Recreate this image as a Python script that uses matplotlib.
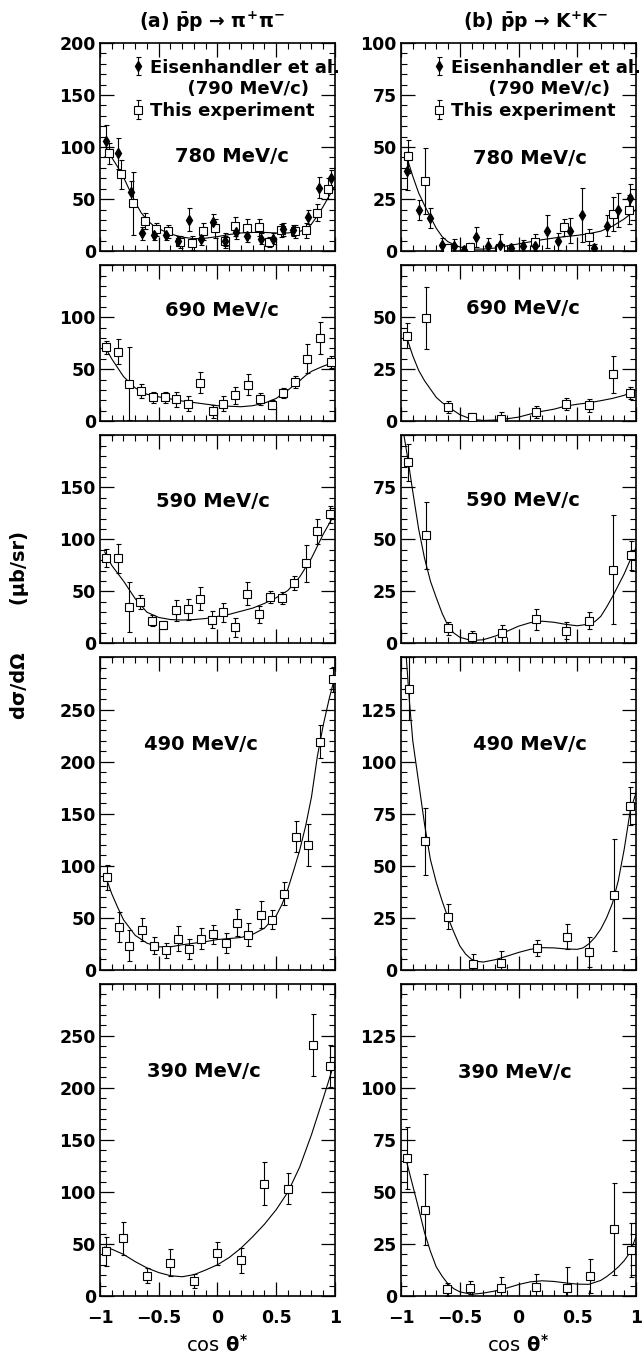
import matplotlib.pyplot as plt
from matplotlib.lines import Line2D
from matplotlib.ticker import MultipleLocator, FixedLocator, FixedFormatter, FuncFormatter

# ---------------- data ----------------
MOMENTA = ['780', '690', '590', '490', '390']

# pbar p -> pi+ pi-  (This experiment)
PIPI_780_COS = [-0.92, -0.82, -0.72, -0.62, -0.52, -0.42, -0.32, -0.22, -0.12, -0.02,
                0.06, 0.15, 0.25, 0.35, 0.44, 0.54, 0.66, 0.75, 0.85, 0.94]
PIPI_780_VAL = [94, 74, 46, 29, 21, 19, 9, 8, 19, 22, 10, 24, 22, 23, 9, 20, 19, 20, 37, 60]
PIPI_780_ERR = [10, 14, 30, 8, 6, 6, 6, 7, 8, 9, 7, 9, 9, 8, 5, 6, 6, 7, 8, 10]

# Eisenhandler et al. (790 MeV/c)
EISEN_PIPI_COS = [-0.95, -0.85, -0.74, -0.64, -0.54, -0.44, -0.34, -0.24, -0.14, -0.04,
                  0.06, 0.16, 0.25, 0.37, 0.47, 0.56, 0.64, 0.77, 0.86, 0.97]
EISEN_PIPI_VAL = [106, 94, 57, 17, 16, 16, 10, 30, 12, 28, 10, 18, 15, 12, 12, 21, 20, 33, 61, 70]
EISEN_PIPI_ERR = [15, 15, 10, 6, 5, 5, 5, 11, 6, 8, 5, 6, 6, 5, 5, 6, 5, 7, 10, 8]

PIPI_690_COS = [-0.95, -0.85, -0.75, -0.65, -0.55, -0.45, -0.35, -0.25, -0.15, -0.04,
                0.05, 0.15, 0.26, 0.36, 0.46, 0.56, 0.66, 0.76, 0.87, 0.97]
PIPI_690_VAL = [71, 67, 36, 29, 23, 23, 21, 17, 37, 9.5, 17, 25, 35, 21.5, 16, 27, 38, 60, 80, 57]
PIPI_690_ERR = [6, 12, 35, 7, 5, 5, 7, 7, 10, 6, 7, 8, 10, 6, 4, 5, 6, 14, 15, 6]

PIPI_590_COS = [-0.95, -0.85, -0.75, -0.66, -0.56, -0.46, -0.35, -0.25, -0.15, -0.05,
                0.05, 0.15, 0.25, 0.35, 0.45, 0.55, 0.65, 0.75, 0.85, 0.96]
PIPI_590_VAL = [82, 82, 35, 40, 22, 18, 32, 33, 43, 23, 30, 15.5, 48, 28, 44.5, 43.5, 58, 77, 108, 124]
PIPI_590_ERR = [9, 14, 24, 7, 5, 4, 10, 10, 11, 8, 9, 9, 11, 8, 6, 6, 7, 18, 12, 8]

PIPI_490_COS = [-0.94, -0.84, -0.75, -0.64, -0.54, -0.44, -0.34, -0.24, -0.14, -0.04,
                0.07, 0.17, 0.26, 0.37, 0.46, 0.57, 0.67, 0.77, 0.87, 0.98]
PIPI_490_VAL = [89, 41, 23, 38.5, 23, 18.6, 30, 20, 30, 34, 25.7, 45, 33.7, 53, 48, 73, 128, 120, 219, 279]
PIPI_490_ERR = [12, 14, 15, 11, 8, 7, 12, 10, 10, 9, 10, 13, 11, 13, 9, 11, 15, 20, 16, 12]

PIPI_390_COS = [-0.95, -0.8, -0.6, -0.4, -0.2, 0.0, 0.2, 0.4, 0.6, 0.81, 0.96]
PIPI_390_VAL = [43, 55.5, 19.5, 32, 14.5, 41, 34.5, 108, 103, 241, 221]
PIPI_390_ERR = [14, 16, 7, 13, 7, 11, 12, 21, 15, 30, 20]

# fitted curves, pi+ pi-
PIPI_780_FIT_COS = [-0.95, -0.9, -0.85, -0.8, -0.75, -0.7, -0.65, -0.6, -0.55, -0.5, -0.4, -0.3,
                    -0.2, -0.1, 0.0, 0.1, 0.2, 0.3, 0.4, 0.5, 0.6, 0.7, 0.75, 0.8, 0.85, 0.9, 0.95, 1.0]
PIPI_780_FIT_VAL = [100, 90, 81, 71, 59, 47, 37, 30, 25, 21.5, 16.5, 13.5,
                    12, 12.5, 14, 16, 17.5, 18, 18, 17.5, 17.5, 19, 21, 26, 34, 43, 53, 62]
PIPI_690_FIT_COS = [-0.96, -0.9, -0.8, -0.7, -0.6, -0.5, -0.4, -0.3, -0.2, -0.1, 0.0,
                    0.1, 0.2, 0.3, 0.4, 0.5, 0.6, 0.7, 0.75, 0.8, 0.9, 1.0]
PIPI_690_FIT_VAL = [72, 60, 43, 32, 26, 23.5, 21.5, 19.5, 18, 16.5, 15,
                    14.5, 14, 15, 17.5, 22, 30, 39, 44, 48, 53, 57]
PIPI_590_FIT_COS = [-0.96, -0.9, -0.8, -0.7, -0.6, -0.5, -0.4, -0.3, -0.2, -0.1, 0.0,
                    0.1, 0.2, 0.3, 0.4, 0.5, 0.6, 0.7, 0.8, 0.9, 1.0]
PIPI_590_FIT_VAL = [88, 75, 60, 43, 30, 25, 23, 22.5, 23, 24, 26,
                    28, 31, 34, 38.5, 44, 51, 64, 82, 105, 125]
PIPI_490_FIT_COS = [-0.96, -0.9, -0.85, -0.8, -0.7, -0.6, -0.5, -0.4, -0.3, -0.2, -0.1, 0.0,
                    0.1, 0.2, 0.3, 0.4, 0.5, 0.55, 0.6, 0.65, 0.7, 0.75, 0.8, 0.85, 0.9, 0.95, 1.0]
PIPI_490_FIT_VAL = [92, 73, 60, 48, 33, 25.5, 22, 22, 24, 25.5, 27, 29,
                    30, 31, 34, 40, 52, 63, 78, 96, 115, 138, 166, 205, 235, 260, 282]
PIPI_390_FIT_COS = [-0.96, -0.9, -0.8, -0.7, -0.6, -0.5, -0.4, -0.3, -0.2, -0.1, 0.0,
                    0.1, 0.2, 0.3, 0.4, 0.5, 0.6, 0.7, 0.8, 0.9, 1.0]
PIPI_390_FIT_VAL = [47, 45, 40, 33, 27, 22.5, 19.5, 18.5, 20.5, 25, 30,
                    37, 46, 57, 69, 83, 100, 124, 155, 190, 226]

# pbar p -> K+ K-  (This experiment)
KK_780_COS = [-0.94, -0.8, -0.61, -0.41, -0.16, 0.14, 0.39, 0.6, 0.8, 0.94]
KK_780_VAL = [45.6, 33.7, 1.6, 2.1, 1.6, 4.3, 11.4, 6.8, 17.9, 20]
KK_780_ERR = [8, 16, 2, 2, 2, 4, 4, 4, 8, 7]

EISEN_KK_COS = [-0.95, -0.85, -0.75, -0.65, -0.55, -0.46, -0.36, -0.26, -0.16, -0.06,
                0.04, 0.14, 0.24, 0.34, 0.44, 0.54, 0.64, 0.75, 0.85, 0.95]
EISEN_KK_VAL = [38.4, 19.8, 15.9, 3.2, 2.7, 0.8, 6.8, 2.4, 3.2, 1.3,
                2.4, 2.7, 9.5, 4.8, 9.8, 17.5, 1.6, 12.2, 19.8, 25.4]
EISEN_KK_ERR = [9, 5, 5, 3, 3, 1.5, 5, 4, 5, 2, 3, 3, 8, 4, 6, 13, 2, 5, 8, 7]

KK_690_COS = [-0.95, -0.79, -0.6, -0.4, -0.15, 0.15, 0.4, 0.6, 0.8, 0.95]
KK_690_VAL = [41, 49.5, 6.9, 2.1, 1.3, 4.4, 8.4, 7.6, 22.6, 13.7]
KK_690_ERR = [6, 15, 3, 2, 3, 3, 3, 3, 9, 3]

KK_590_COS = [-0.94, -0.79, -0.6, -0.4, -0.14, 0.15, 0.4, 0.6, 0.8, 0.96]
KK_590_VAL = [87, 52, 7.3, 2.9, 4.8, 11.6, 6.1, 11, 35.5, 42.3]
KK_590_ERR = [9, 16, 3, 3, 4, 5, 4, 4, 26, 7]

KK_490_COS = [-0.93, -0.8, -0.6, -0.39, -0.15, 0.16, 0.41, 0.6, 0.81, 0.95]
KK_490_VAL = [135, 61.7, 25.5, 2.7, 3.2, 10.4, 15.9, 8.5, 35.9, 78.6]
KK_490_ERR = [15, 16, 6, 5, 6, 4, 6, 7, 27, 9]

KK_390_COS = [-0.95, -0.8, -0.61, -0.41, -0.15, 0.15, 0.41, 0.61, 0.81, 0.96]
KK_390_VAL = [66.4, 41.5, 3.2, 4, 4, 4.5, 3.7, 9.6, 32.3, 22.2]
KK_390_ERR = [15, 17, 3, 3, 5, 6, 10, 8, 22, 13]

# fitted curves, K+ K-
KK_780_FIT_COS = [-0.95, -0.9, -0.85, -0.8, -0.75, -0.7, -0.65, -0.6, -0.5, -0.4, -0.3, -0.2,
                  -0.1, 0.0, 0.1, 0.2, 0.3, 0.4, 0.5, 0.6, 0.7, 0.8, 0.9, 1.0]
KK_780_FIT_VAL = [45, 36, 28, 22, 16.5, 11, 7, 4.5, 2, 1, 1, 1.5,
                  2.5, 3.5, 4.5, 5.5, 6.3, 7, 7.6, 8.4, 9.6, 12, 15.5, 20]
KK_690_FIT_COS = [-0.95, -0.9, -0.85, -0.8, -0.75, -0.7, -0.65, -0.6, -0.5, -0.4, -0.3, -0.2,
                  -0.1, 0.0, 0.1, 0.2, 0.3, 0.4, 0.5, 0.6, 0.7, 0.8, 0.9, 0.96]
KK_690_FIT_VAL = [40, 31.5, 24.5, 19.5, 15.5, 11.5, 9, 7, 3.2, 1, 0.4, 0.6,
                  1.2, 2, 3.5, 4.8, 5.8, 7.3, 8.2, 8.9, 9.9, 11, 12.5, 14]
KK_590_FIT_COS = [-0.975, -0.94, -0.9, -0.85, -0.8, -0.75, -0.7, -0.65, -0.6, -0.55, -0.5,
                  -0.4, -0.3, -0.2, -0.1, 0.0, 0.1, 0.2, 0.3, 0.4, 0.5, 0.6, 0.65, 0.7,
                  0.75, 0.8, 0.85, 0.9, 0.95, 1.0]
KK_590_FIT_VAL = [100, 88, 73, 55, 41, 30, 22, 14.5, 8.5, 5, 3,
                  1.4, 1.8, 3.5, 5.8, 8.3, 10, 10.7, 10.2, 9.2, 8.5, 9.3, 10.5, 13,
                  17.5, 22.5, 28, 33.5, 40, 46]
KK_490_FIT_COS = [-0.955, -0.93, -0.9, -0.85, -0.8, -0.75, -0.7, -0.65, -0.6, -0.55, -0.5,
                  -0.45, -0.4, -0.35, -0.3, -0.2, -0.1, 0.0, 0.1, 0.2, 0.3, 0.4, 0.5,
                  0.55, 0.6, 0.65, 0.7, 0.75, 0.8, 0.85, 0.9, 0.95, 1.0]
KK_490_FIT_VAL = [150, 130, 110, 90, 70, 53, 42, 33, 25, 18, 11.5,
                  7.5, 5, 4, 3.7, 4.8, 6.5, 8.3, 9.8, 10.6, 10.5, 10, 9.8,
                  10.5, 12.5, 15.5, 19.5, 25, 32, 43, 58, 76, 85]
KK_390_FIT_COS = [-0.95, -0.9, -0.85, -0.8, -0.75, -0.7, -0.65, -0.6, -0.55, -0.5, -0.4,
                  -0.3, -0.2, -0.1, 0.0, 0.1, 0.2, 0.3, 0.4, 0.5, 0.6, 0.7, 0.75,
                  0.8, 0.85, 0.9, 0.95, 1.0]
KK_390_FIT_VAL = [64, 53, 42, 30.5, 21.5, 14, 9.5, 5.8, 3.5, 2, 0.8,
                  1.4, 2.4, 3.8, 5.5, 6.8, 7.3, 7, 6.3, 5.7, 5.6, 7.5, 9.3,
                  11.5, 14, 17, 21, 28.5]

PIPI_YMAX = [200, 150, 200, 300, 300]
KK_YMAX = [100, 75, 100, 150, 150]

XTICKS = [-1, -0.5, 0, 0.5, 1]
XTICK_LABELS = ['\u22121', '\u22120.5', '0', '0.5', '1']

# ---------------- style ----------------
plt.rcParams['font.family'] = 'DejaVu Sans'
plt.rcParams['font.weight'] = 'bold'
plt.rcParams['mathtext.fontset'] = 'custom'
plt.rcParams['mathtext.rm'] = 'DejaVu Sans:bold'
plt.rcParams['mathtext.it'] = 'DejaVu Sans:bold'
plt.rcParams['mathtext.bf'] = 'DejaVu Sans:bold'
plt.rcParams['axes.linewidth'] = 1.2

SQ = dict(fmt='s', ms=5.5, mfc='white', mec='black', mew=0.8, ecolor='black',
          elinewidth=0.8, capsize=1.8, capthick=0.8, zorder=3)
DM = dict(fmt='d', ms=5, color='black', ecolor='black',
          elinewidth=0.8, capsize=1.8, capthick=0.8, zorder=3)

# label positions (axes fraction) for the momentum labels
PIPI_LABEL_POS = [(0.56, 0.455), (0.52, 0.71), (0.48, 0.68), (0.43, 0.72), (0.44, 0.72)]
KK_LABEL_POS = [(0.55, 0.445), (0.52, 0.72), (0.52, 0.685), (0.55, 0.72), (0.485, 0.715)]

ARROW = '\u2192'


def style_axis(ax, ymax, major, row, bottom):
  ax.set_xlim(-1, 1)
  ax.set_ylim(0, ymax)
  ax.xaxis.set_major_locator(FixedLocator(XTICKS))
  ax.xaxis.set_minor_locator(MultipleLocator(0.1))
  if bottom:
    ax.xaxis.set_major_formatter(FixedFormatter(XTICK_LABELS))
  else:
    ax.set_xticklabels([])
  ax.yaxis.set_major_locator(MultipleLocator(major))
  ax.yaxis.set_minor_locator(MultipleLocator(major / 5))
  skip_top = row > 0
  ax.yaxis.set_major_formatter(FuncFormatter(
      lambda v, p: '' if (skip_top and v >= ymax - 1e-6) else f'{v:g}'))
  ax.tick_params(which='both', direction='in', top=True, right=True, labelsize=12.5)
  ax.tick_params(which='major', length=10, width=0.9)
  ax.tick_params(which='minor', length=4.5, width=0.8)
  ax.tick_params(axis='x', pad=9)
  ax.tick_params(axis='y', pad=3)


def draw_panel(ax, cos, val, err, fit_cos, fit_val):
  ax.plot(fit_cos, fit_val, color='black', lw=0.8, zorder=2)
  return ax.errorbar(cos, val, yerr=err, **SQ)


def main():
  fig = plt.figure(figsize=(6.42, 13.56), dpi=100)
  gs = fig.add_gridspec(5, 2, height_ratios=PIPI_YMAX,
                        left=100 / 642, right=636 / 642,
                        top=1 - 43 / 1356, bottom=1 - 1296 / 1356,
                        hspace=0.0585, wspace=0.281)

  pipi = [(PIPI_780_COS, PIPI_780_VAL, PIPI_780_ERR, PIPI_780_FIT_COS, PIPI_780_FIT_VAL),
          (PIPI_690_COS, PIPI_690_VAL, PIPI_690_ERR, PIPI_690_FIT_COS, PIPI_690_FIT_VAL),
          (PIPI_590_COS, PIPI_590_VAL, PIPI_590_ERR, PIPI_590_FIT_COS, PIPI_590_FIT_VAL),
          (PIPI_490_COS, PIPI_490_VAL, PIPI_490_ERR, PIPI_490_FIT_COS, PIPI_490_FIT_VAL),
          (PIPI_390_COS, PIPI_390_VAL, PIPI_390_ERR, PIPI_390_FIT_COS, PIPI_390_FIT_VAL)]
  kk = [(KK_780_COS, KK_780_VAL, KK_780_ERR, KK_780_FIT_COS, KK_780_FIT_VAL),
        (KK_690_COS, KK_690_VAL, KK_690_ERR, KK_690_FIT_COS, KK_690_FIT_VAL),
        (KK_590_COS, KK_590_VAL, KK_590_ERR, KK_590_FIT_COS, KK_590_FIT_VAL),
        (KK_490_COS, KK_490_VAL, KK_490_ERR, KK_490_FIT_COS, KK_490_FIT_VAL),
        (KK_390_COS, KK_390_VAL, KK_390_ERR, KK_390_FIT_COS, KK_390_FIT_VAL)]

  for row in range(5):
    bottom = row == 4
    for col, (series, ymax, major, pos) in enumerate(
        [(pipi, PIPI_YMAX, 50, PIPI_LABEL_POS), (kk, KK_YMAX, 25, KK_LABEL_POS)]):
      ax = fig.add_subplot(gs[row, col])
      style_axis(ax, ymax[row], major, row, bottom)
      sq = draw_panel(ax, *series[row])
      ax.text(pos[row][0], pos[row][1], f'{MOMENTA[row]} MeV/c', transform=ax.transAxes,
              ha='center', va='center', fontsize=14)
      if row == 0:
        if col == 0:
          dm = ax.errorbar(EISEN_PIPI_COS, EISEN_PIPI_VAL, yerr=EISEN_PIPI_ERR, **DM)
          title = r'(a) $\bar{\mathrm{p}}\mathrm{p}$ ' + ARROW + r' $\pi^{+}\pi^{-}$'
          ax.text(0.476, 1.10, title, transform=ax.transAxes,
                  ha='center', va='center', fontsize=13.5)
        else:
          dm = ax.errorbar(EISEN_KK_COS, EISEN_KK_VAL, yerr=EISEN_KK_ERR, **DM)
          title = r'(b) $\bar{\mathrm{p}}\mathrm{p}$ ' + ARROW + r' $\mathrm{K}^{+}\mathrm{K}^{-}$'
          ax.text(0.574, 1.10, title, transform=ax.transAxes,
                  ha='center', va='center', fontsize=13.5)
        blank = Line2D([], [], linestyle='none')
        ax.legend([dm, blank, sq],
                  ['Eisenhandler et al.', '      (790 MeV/c)', 'This experiment'],
                  loc='upper right', bbox_to_anchor=(1.02, 0.925), frameon=False,
                  fontsize=13, handlelength=0.6, handletextpad=0.35,
                  borderpad=0, borderaxespad=0, labelspacing=0.2)
      if bottom:
        ax.set_xlabel(r'cos $\theta^{*}$', fontsize=14, labelpad=5)

  fig.text(0.03, 0.539, 'd\u03c3/d\u03a9       (\u03bcb/sr)', rotation=90,
           ha='center', va='center', fontsize=14)

  fig.savefig('out.png', dpi=100)


if __name__ == '__main__':
  main()
